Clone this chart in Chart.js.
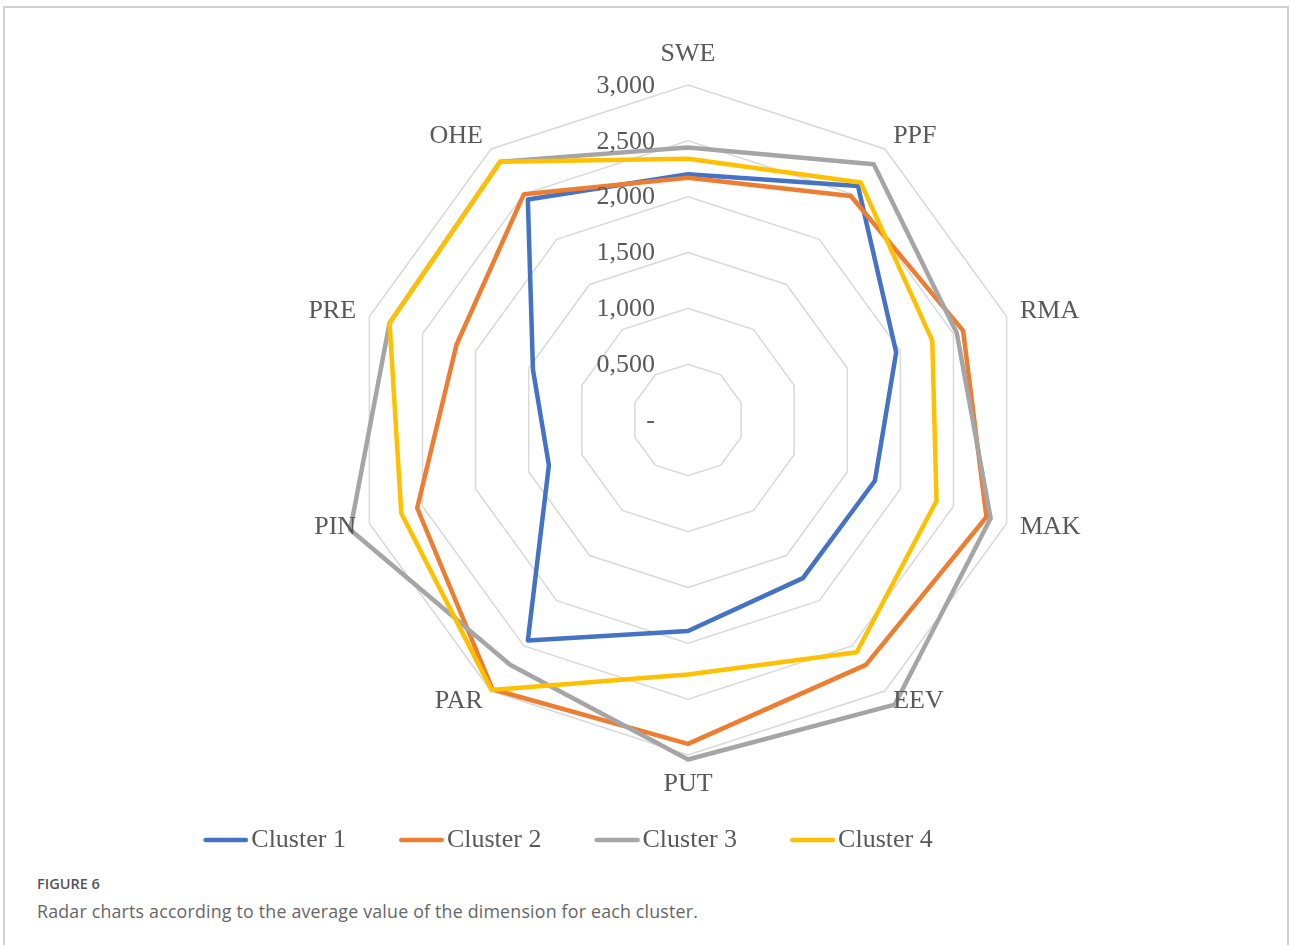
<!DOCTYPE html>
<html>
<head>
<meta charset="utf-8">
<script src="https://cdn.jsdelivr.net/npm/chart.js@4.4.1/dist/chart.umd.min.js"></script>
<style>
  html, body { margin: 0; padding: 0; background: #fff; }
  body { width: 1290px; height: 945px; position: relative; overflow: hidden; }
  #frame { position: absolute; left: 3px; top: 6px; width: 1282px; height: 960px;
           border: 2px solid #d0d0d0; border-bottom: none; }
  #wrap { position: absolute; left: 0; top: 0; width: 1290px; height: 863px; }
  .fig { position: absolute; left: 37px; top: 874px; font-family: "Open Sans", sans-serif;
         font-size: 14.5px; font-weight: 600; color: #555; }
  .cap { position: absolute; left: 37px; top: 899px; font-family: "Open Sans", sans-serif;
         font-size: 17.8px; letter-spacing: 0.2px; color: #666; }
</style>
</head>
<body>
<div id="frame"></div>
<div id="wrap"><canvas id="radar"></canvas></div>
<div class="fig">FIGURE 6</div>
<div class="cap">Radar charts according to the average value of the dimension for each cluster.</div>

<script>
// Dimensions (axes of the radar)
const categories = ['SWE', 'PPF', 'RMA', 'MAK', 'EEV', 'PUT', 'PAR', 'PIN', 'PRE', 'OHE'];

// Average value of each dimension per cluster
const cluster1 = [2.20, 2.59, 1.96, 1.76, 1.75, 1.89, 2.44, 1.31, 1.46, 2.44];
const cluster2 = [2.17, 2.48, 2.59, 2.81, 2.71, 2.90, 2.98, 2.55, 2.18, 2.50];
const cluster3 = [2.44, 2.83, 2.53, 2.85, 3.15, 3.04, 2.71, 3.18, 2.81, 2.86];
const cluster4 = [2.34, 2.63, 2.30, 2.34, 2.57, 2.28, 2.99, 2.70, 2.81, 2.86];

const seriesNames = ['Cluster 1', 'Cluster 2', 'Cluster 3', 'Cluster 4'];
const seriesValues = [cluster1, cluster2, cluster3, cluster4];
const seriesColors = ['#4472C4', '#ED7D31', '#A5A5A5', '#FFC000'];

// Radial axis range
const axisMin = 0;
const axisMax = 3;
const axisStep = 0.5;

const TEXT_COLOR = '#595959';
const SERIF = '"Liberation Serif", "Times New Roman", serif';
const LINE_WIDTH = 4.5;

// "3,000" style labels with a dash for zero
function fmtTick(v) {
  return Math.abs(v) < 1e-9 ? '-' : v.toFixed(3).replace('.', ',');
}

// Small line swatch for the legend; the line sits in the right part of
// the image so that it ends just before the legend text
function lineSwatch(color) {
  const c = document.createElement('canvas');
  c.width = 55;
  c.height = 8;
  const g = c.getContext('2d');
  g.strokeStyle = color;
  g.lineWidth = LINE_WIDTH;
  g.lineCap = 'round';
  g.beginPath();
  g.moveTo(10 + LINE_WIDTH / 2, 4);
  g.lineTo(55 - LINE_WIDTH / 2, 4);
  g.stroke();
  return c;
}

// Draws the value labels beside the vertical axis and the dimension names
const radarText = {
  id: 'radarText',
  afterDatasetsDraw(chart) {
    const s = chart.scales.r;
    const ctx = chart.ctx;
    ctx.save();
    ctx.font = '26px ' + SERIF;
    ctx.fillStyle = TEXT_COLOR;
    ctx.textBaseline = 'middle';

    ctx.textAlign = 'right';
    s.ticks.forEach(t => {
      const d = s.getDistanceFromCenterForValue(t.value);
      ctx.fillText(fmtTick(t.value), s.xCenter - 33, s.yCenter - d + 1);
    });

    categories.forEach((label, i) => {
      const a = s.getIndexAngle(i);
      const sx = Math.sin(a);
      let dist = s.drawingArea + 14;
      if (Math.abs(sx) < 0.1) {
        ctx.textAlign = 'center';
        dist += 16;
      } else {
        ctx.textAlign = sx > 0 ? 'left' : 'right';
      }
      const p = s.getPointPosition(i, dist);
      ctx.fillText(label, p.x, p.y - 1);
    });
    ctx.restore();
  }
};

const datasets = seriesNames.map((name, i) => ({
  label: name,
  data: seriesValues[i],
  borderColor: seriesColors[i],
  backgroundColor: seriesColors[i],
  borderWidth: LINE_WIDTH,
  borderJoinStyle: 'round',
  borderCapStyle: 'round',
  fill: false,
  pointStyle: lineSwatch(seriesColors[i]),
  pointRadius: 0,
  pointHoverRadius: 0,
  tension: 0,
  order: seriesNames.length - i,
  clip: false
}));

new Chart(document.getElementById('radar'), {
  type: 'radar',
  data: { labels: categories, datasets },
  plugins: [radarText],
  options: {
    responsive: true,
    maintainAspectRatio: false,
    animation: false,
    events: [],
    layout: { padding: { left: 0, right: 154, top: 0, bottom: 0 } },
    font: { family: SERIF },
    plugins: {
      tooltip: { enabled: false },
      legend: {
        position: 'bottom',
        align: 'center',
        labels: {
          usePointStyle: true,
          pointStyleWidth: 35,
          padding: 53,
          color: TEXT_COLOR,
          font: { family: SERIF, size: 26 },
          sort: (a, b) => a.datasetIndex - b.datasetIndex
        }
      }
    },
    scales: {
      r: {
        min: axisMin,
        max: axisMax,
        beginAtZero: true,
        ticks: { stepSize: axisStep, display: false },
        grid: { color: '#d9d9d9', lineWidth: 1.5 },
        angleLines: { display: false },
        pointLabels: { display: false },
        afterFit(scale) {
          scale.xCenter = 688;
          scale.yCenter = 420;
          scale.drawingArea = 335;
        }
      }
    }
  }
});
</script>
</body>
</html>
